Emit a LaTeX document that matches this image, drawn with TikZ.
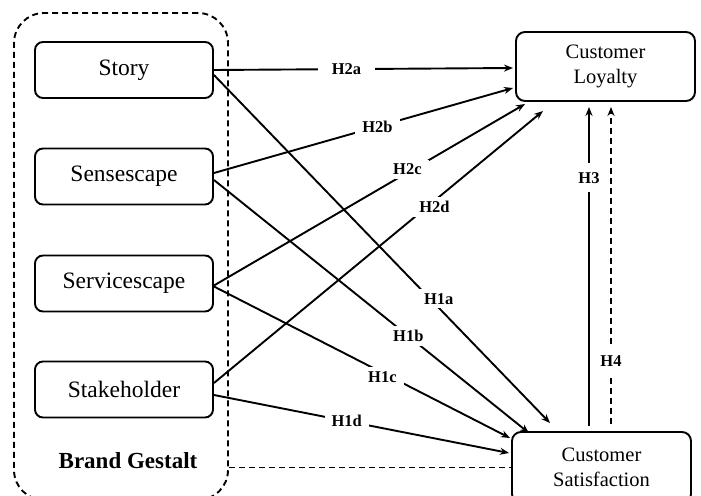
\documentclass[tikz,border=0pt]{standalone}
\usepackage{fontspec}
\setmainfont{Liberation Serif}
\usetikzlibrary{calc,arrows.meta}
\begin{document}
\begin{tikzpicture}[x=1pt,y=-1pt,
  box/.style={draw,line width=1.9pt,rounded corners=8pt,inner sep=0pt,minimum width=178pt,minimum height=56pt,font=\fontsize{23.5}{25}\selectfont},
  cbox/.style={draw,line width=1.9pt,rounded corners=9pt,inner sep=0pt,minimum width=179pt,align=center,font=\fontsize{20.5}{25}\selectfont},
  conn/.style={line width=1.9pt,-{Stealth[length=9pt,width=7pt]}},
  hlab/.style={fill=white,inner xsep=7pt,inner ysep=4pt,font=\bfseries\fontsize{16.5}{18}\selectfont},
  vlab/.style={hlab,inner xsep=3pt,inner ysep=9pt},
  dsh/.style={line width=1.9pt,dash pattern=on 6pt off 4pt},
]
\useasboundingbox (0,0) rectangle (701,495);
% group
\node[dsh,draw,rounded corners=30pt,minimum width=214pt,minimum height=487pt,inner sep=0pt] (bg) at (121,256.5) {};
\node[font=\bfseries\fontsize{23}{25}\selectfont] (bgl) at (128,461) {Brand Gestalt};
% boxes
\node[box] (story) at (124,70) {Story};
\node[box] (sense) at (124,176.5) {Sensescape};
\node[box] (serv) at (124,283.5) {Servicescape};
\node[box] (stake) at (124,389.5) {Stakeholder};
\node[cbox,minimum height=69pt] (loy) at (605.5,66.5) {Customer\\Loyalty};
\node[cbox,minimum height=71pt] (sat) at (601.5,467.5) {Customer\\Satisfaction};
% end points
\coordinate (e2a) at (513,68);
\coordinate (e2b) at (513,88);
\coordinate (e2c) at (525,104);
\coordinate (e2d) at (543,111);
\coordinate (e1a) at (550,423);
\coordinate (e1b) at (529,433);
\coordinate (e1c) at (510,438);
\coordinate (e1d) at (509,453);
% H2
\draw[conn] (story.east) -- node[hlab,pos=0.443,inner xsep=14pt]{H2a} (e2a);
\draw[conn] ([yshift=3.5pt]sense.east) -- node[hlab,pos=0.547]{H2b} (e2b);
\draw[conn] ([yshift=-2pt]serv.east) -- node[hlab,pos=0.622,yshift=3pt]{H2c} (e2c);
\draw[conn] ([yshift=6.5pt]stake.east) -- node[hlab,pos=0.67,yshift=-6pt]{H2d} (e2d);
% H1
\draw[conn] ([yshift=-5pt]story.east) -- node[hlab,pos=0.66,xshift=3pt,yshift=6pt]{H1a} (e1a);
\draw[conn] ([yshift=-3.5pt]sense.east) -- node[hlab,pos=0.617]{H1b} (e1b);
\draw[conn] ([yshift=-3pt]serv.east) -- node[hlab,pos=0.569,yshift=-4pt]{H1c} (e1c);
\draw[conn] ([yshift=-5.5pt]stake.east) -- node[hlab,pos=0.45]{H1d} (e1d);
% H3, H4
\draw[conn,shorten <=5pt,shorten >=5pt] ([xshift=-12.5pt]sat.north) -- node[vlab,pos=0.77]{H3} ([xshift=-16.5pt]loy.south);
\draw[conn,dsh,shorten <=7pt,shorten >=5pt] ([xshift=9.5pt]sat.north) -- node[vlab,pos=0.214]{H4} ([xshift=5.5pt]loy.south);
% dashed link
\draw[dsh] (bg.east |- sat.west) -- (sat.west);
\end{tikzpicture}
\end{document}
